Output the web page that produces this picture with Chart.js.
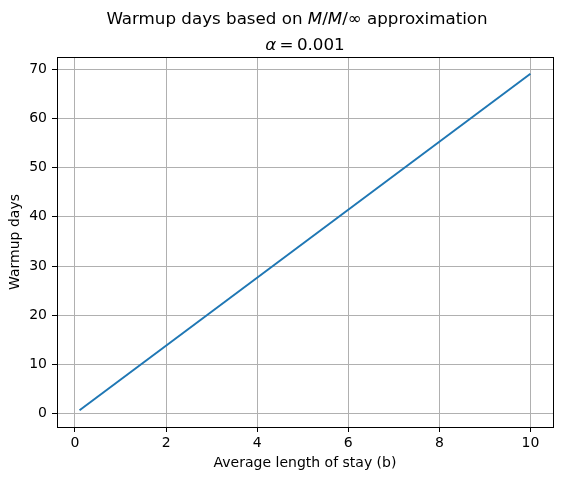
<!doctype html>
<html lang="en">
<head>
  <meta charset="utf-8">
  <title>Warmup days based on M/M/∞ approximation</title>
  <style>
    * {
      margin: 0;
      padding: 0;
    }
    body {
      background: white;
    }
    .chartBox {
      position: relative;
      width: 563px;
      height: 480px;
    }
  </style>
</head>
<body>
  <div class="chartBox">
    <canvas id="myChart" width="563" height="480"></canvas>
  </div>

  <script src="https://cdn.jsdelivr.net/npm/chart.js"></script>
  <script>
    // data (straight line from b=0.1 to b=10)
    const stayLengths = [0.1, 10];
    const warmupDays = [0.69, 69.08];
    const xTicks = [0, 2, 4, 6, 8, 10];
    const yTicks = [0, 10, 20, 30, 40, 50, 60, 70];

    const FONT = "'DejaVu Sans', sans-serif";
    Chart.defaults.font.family = FONT;
    Chart.defaults.color = 'black';

    // title + subtitle with italic math parts, plus the top/right spines
    const figureText = {
      id: 'figureText',
      afterDraw(chart) {
        const ctx = chart.ctx;
        const area = chart.chartArea;
        ctx.save();

        ctx.strokeStyle = 'black';
        ctx.lineWidth = 1;
        ctx.strokeRect(Math.round(area.left) + 0.5, Math.round(area.top) + 0.5,
          Math.round(area.right - area.left), Math.round(area.bottom - area.top));

        drawRich(ctx, [
          ['Warmup days based on ', false],
          ['M', true], ['/', false], ['M', true], ['/∞ approximation', false]
        ], 297, 24, 16.7);
        drawRich(ctx, [
          ['α', true], ['\u2009=\u20090.001', false]
        ], 305, 50, 16.7);

        ctx.restore();
      }
    };

    function drawRich(ctx, parts, cx, baseline, size) {
      ctx.fillStyle = 'black';
      ctx.textBaseline = 'alphabetic';
      ctx.textAlign = 'left';
      let total = 0;
      parts.forEach(p => {
        ctx.font = (p[1] ? 'italic ' : '') + size + 'px ' + FONT;
        total += ctx.measureText(p[0]).width;
      });
      let x = cx - total / 2;
      parts.forEach(p => {
        ctx.font = (p[1] ? 'italic ' : '') + size + 'px ' + FONT;
        ctx.fillText(p[0], x, baseline);
        x += ctx.measureText(p[0]).width;
      });
    }

    const points = stayLengths.map((b, i) => ({ x: b, y: warmupDays[i] }));

    const config = {
      type: 'line',
      data: {
        datasets: [{
          data: points,
          borderColor: '#1f77b4',
          backgroundColor: '#1f77b4',
          borderWidth: 2,
          pointRadius: 0,
          tension: 0
        }]
      },
      options: {
        responsive: false,
        animation: false,
        layout: {
          padding: { top: 57, right: 10, left: 0, bottom: 0 }
        },
        scales: {
          x: {
            type: 'linear',
            min: -0.395,
            max: 10.495,
            afterBuildTicks: (scale) => {
              scale.ticks = xTicks.map(v => ({ value: v }));
            },
            afterFit: (scale) => { scale.height = 53; },
            ticks: {
              autoSkip: false,
              maxRotation: 0,
              padding: 3,
              font: { size: 14 },
              color: 'black'
            },
            grid: {
              color: '#b0b0b0',
              lineWidth: 1,
              tickColor: 'black',
              tickLength: 5
            },
            border: { display: true, color: 'black', width: 1 },
            title: {
              display: true,
              text: 'Average length of stay (b)',
              color: 'black',
              font: { size: 14 },
              padding: { top: 0, bottom: 8 }
            }
          },
          y: {
            type: 'linear',
            min: -2.73,
            max: 72.5,
            afterBuildTicks: (scale) => {
              scale.ticks = yTicks.map(v => ({ value: v }));
            },
            afterFit: (scale) => { scale.width = 57; },
            ticks: {
              autoSkip: false,
              padding: 5,
              font: { size: 14 },
              color: 'black'
            },
            grid: {
              color: '#b0b0b0',
              lineWidth: 1,
              tickColor: 'black',
              tickLength: 5
            },
            border: { display: true, color: 'black', width: 1 },
            title: {
              display: true,
              text: 'Warmup days',
              color: 'black',
              font: { size: 14 },
              padding: { top: 7, bottom: 0 }
            }
          }
        },
        plugins: {
          legend: { display: false },
          tooltip: { enabled: false }
        }
      },
      plugins: [figureText]
    };

    const myChart = new Chart(document.getElementById('myChart'), config);
  </script>
</body>
</html>
